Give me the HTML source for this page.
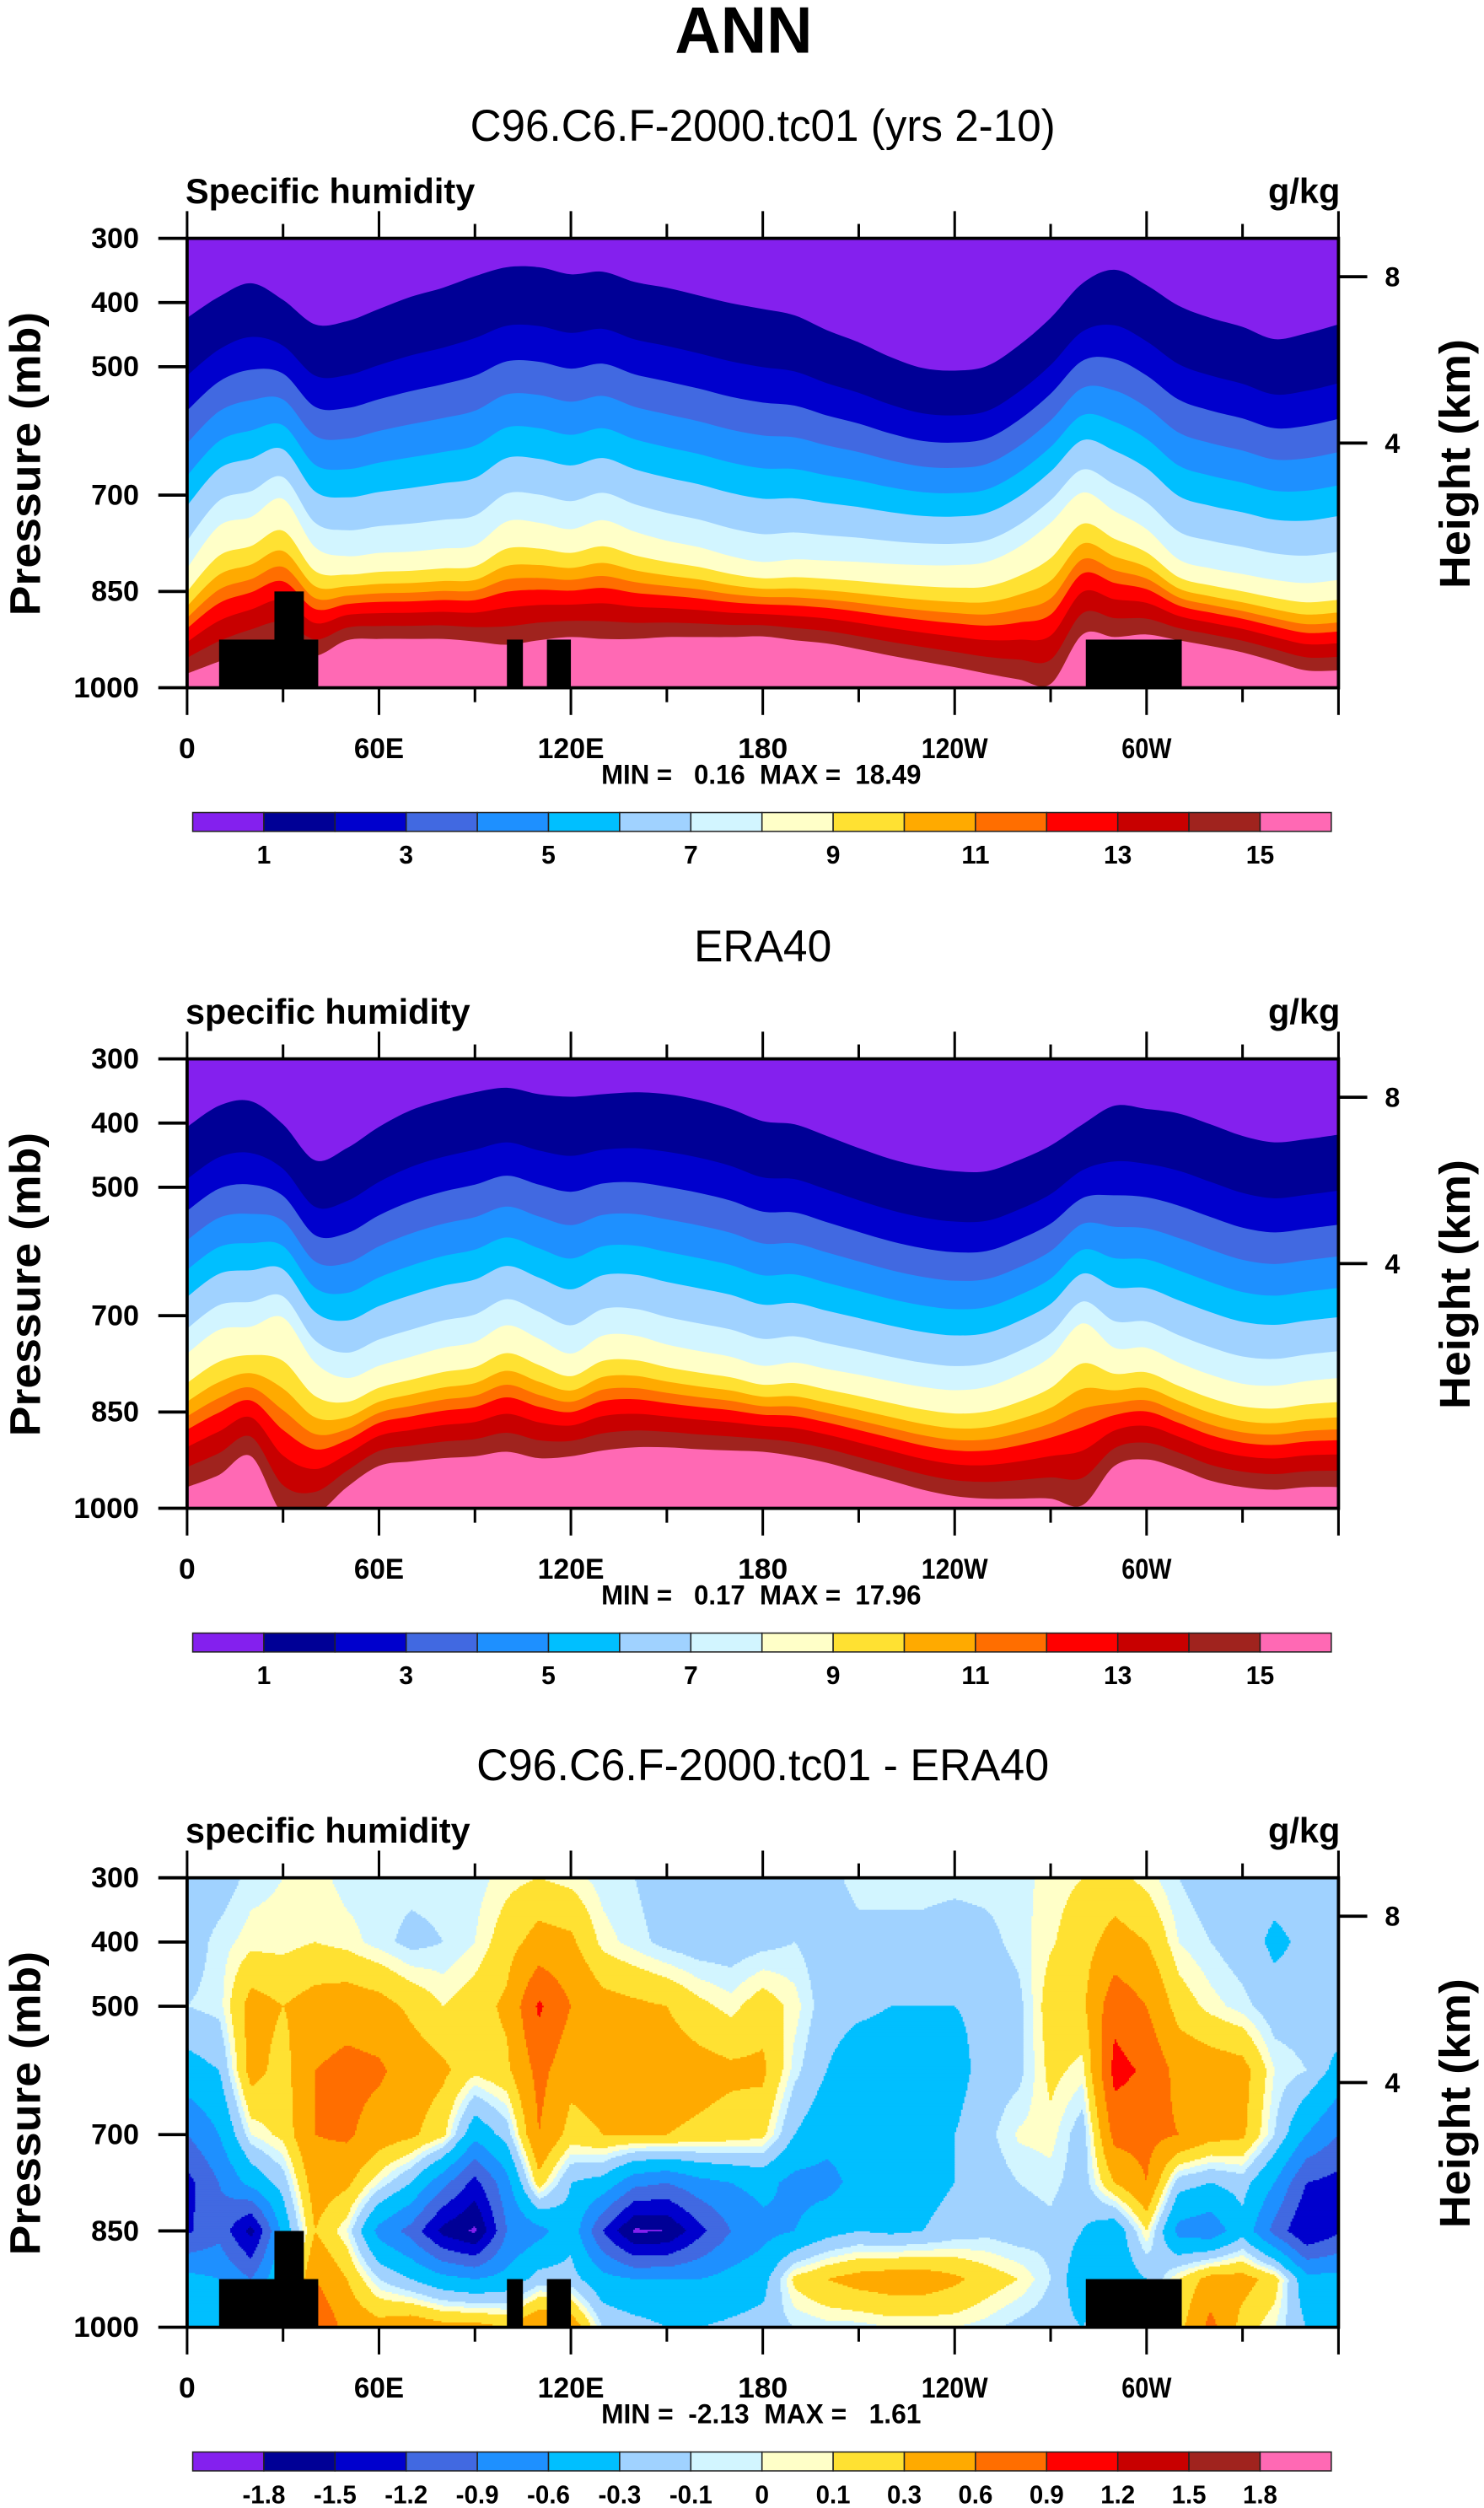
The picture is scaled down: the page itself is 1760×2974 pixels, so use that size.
<!DOCTYPE html>
<html><head><meta charset="utf-8"><title>ANN Specific humidity</title>
<style>
html,body{margin:0;padding:0;background:#fff;}
svg{display:block;}
text{font-family:"Liberation Sans",Arial,sans-serif;fill:#000;}
</style></head>
<body>
<svg id="fig" xmlns="http://www.w3.org/2000/svg" width="1760" height="2974" viewBox="0 0 928 1568" preserveAspectRatio="none">
<rect x="0" y="0" width="928" height="1568" fill="#fff"/>
<text x="465" y="33" text-anchor="middle" font-size="41" font-weight="bold" textLength="86" lengthAdjust="spacingAndGlyphs">ANN</text>
</svg>
<script>
// ---------- data ----------
const lons = [0,10,20,30,40,50,60,70,80,90,100,110,120,130,140,150,160,170,180,190,200,210,220,230,240,250,260,270,280,290,300,310,320,330,340,350,360];
// panel 1 (model): pressure (mb) of q=1, q=8 and q=15 g/kg contours
const modelC1 = [424,391,370,396,434,429,410,391,377,359,345,345,356,352,368,377,389,401,410,420,443,462,485,502,506,499,467,424,370,349,373,405,424,438,457,448,434];
const modelC8 = [814,748,734,706,781,795,790,788,783,778,741,743,753,739,757,771,781,795,804,800,802,804,807,809,809,804,781,743,696,725,753,800,814,823,832,837,832];
const modelC15 = [978,959,940,931,950,926,924,924,924,928,933,926,921,924,924,921,921,921,920,926,931,940,950,959,968,978,987,994,917,921,917,926,935,945,959,973,973];
// panel 2 (ERA40)
const obsC1 = [406,373,366,402,458,439,406,380,364,352,345,355,359,355,352,355,364,378,397,402,420,439,456,468,475,475,458,435,402,373,378,385,402,420,430,425,418];
const obsC8 = [759,722,717,703,773,797,778,764,750,741,715,736,759,731,731,745,755,764,778,773,783,792,802,811,816,811,792,764,712,750,750,773,792,806,809,802,797];
const obsC15 = [967,948,919,1010,1010,967,934,927,922,919,912,922,919,910,905,905,908,910,912,919,929,943,957,971,981,985,985,985,995,934,924,938,957,967,971,967,967];
// panel 3 (difference) grid: one column per longitude, values at pLevels
const pLevels = [300,400,500,600,700,775,850,925,1000];
const diffCols = [
 [-0.2,-0.2,-0.1,-0.4,-0.9,-1.3,-1.25,-0.5,-0.3],
 [-0.2,-0.05,-0.05,-0.3,-0.6,-0.9,-1.0,-0.6,-0.5],
 [-0.05,0.05,0.4,0.4,0.0,-0.5,-1.6,-0.9,-0.6],
 [0.0,0.05,0.3,0.2,0.15,-0.2,-0.5,-0.3,-0.3],
 [0.05,0.1,0.4,0.6,0.6,0.45,0.3,0.6,0.9],
 [-0.05,0.05,0.45,0.7,0.65,0.35,0.0,0.3,0.5],
 [-0.05,-0.05,0.4,0.65,0.45,0.0,-0.7,-0.1,0.4],
 [-0.05,-0.15,0.25,0.45,0.35,-0.3,-1.0,-0.3,0.5],
 [-0.05,-0.1,0.1,0.35,0.15,-0.8,-1.6,-0.5,0.4],
 [-0.05,0.0,0.2,0.15,-0.5,-1.3,-1.85,-0.6,0.4],
 [0.05,0.2,0.35,0.25,-0.2,-0.7,-0.9,-0.5,0.3],
 [0.1,0.4,0.95,0.7,0.6,0.2,-0.7,-0.2,0.6],
 [0.05,0.35,0.6,0.4,0.2,-0.3,-0.4,-0.2,0.5],
 [-0.05,0.05,0.4,0.45,0.3,-0.4,-1.2,-0.5,-0.1],
 [-0.1,-0.05,0.35,0.45,0.3,-0.8,-1.85,-0.6,-0.2],
 [-0.2,-0.15,0.3,0.45,0.3,-0.9,-1.8,-0.6,-0.3],
 [-0.2,-0.2,0.15,0.4,0.25,-0.7,-1.3,-0.6,-0.3],
 [-0.2,-0.2,0.05,0.35,0.2,-0.6,-0.9,-0.5,-0.25],
 [-0.2,-0.15,0.2,0.35,0.15,-0.5,-0.7,-0.4,-0.2],
 [-0.2,-0.1,0.05,-0.05,-0.3,-0.7,-0.6,0.15,-0.1],
 [-0.15,-0.2,-0.2,-0.3,-0.5,-0.7,-0.4,0.3,-0.05],
 [-0.05,-0.15,-0.25,-0.45,-0.5,-0.5,-0.3,0.4,-0.05],
 [-0.05,-0.15,-0.3,-0.45,-0.45,-0.4,-0.35,0.45,0.0],
 [-0.05,-0.15,-0.3,-0.4,-0.35,-0.4,-0.3,0.45,0.0],
 [-0.05,-0.2,-0.3,-0.4,-0.3,-0.3,-0.2,0.35,0.0],
 [-0.05,-0.15,-0.25,-0.2,-0.15,-0.2,-0.15,0.2,-0.05],
 [-0.05,-0.05,-0.15,-0.15,0.02,-0.1,-0.2,0.1,-0.15],
 [0.05,0.08,0.2,0.15,0.05,-0.05,-0.15,-0.1,-0.2],
 [0.1,0.2,0.25,0.05,-0.2,-0.2,-0.3,-0.5,-0.3],
 [0.15,0.4,0.8,1.0,0.7,0.3,-0.5,-0.5,0.0],
 [0.05,0.3,0.6,0.85,0.7,0.6,0.1,-0.3,0.0],
 [-0.1,0.0,0.2,0.5,0.6,-0.2,-0.7,0.1,0.2],
 [-0.2,-0.1,0.05,0.45,0.4,-0.3,-0.8,0.4,0.7],
 [-0.2,-0.2,-0.05,0.4,0.35,-0.2,-0.4,0.4,0.2],
 [-0.2,-0.35,-0.2,0.0,-0.1,-0.6,-1.0,0.2,0.0],
 [-0.2,-0.25,-0.2,-0.1,-0.6,-1.2,-1.5,-0.5,-0.3],
 [-0.2,-0.2,-0.1,-0.4,-0.9,-1.3,-1.25,-0.5,-0.3]
];
// topography mask boxes: [lonStart, lonEnd, topPressure]
const topoBoxes = [[10,41,925],[27.3,36.5,850],[100,105,925],[112.5,120,925],[281,311,925]];
const qLabels = ["1","3","5","7","9","11","13","15"];
const qLabelIdx = [0,2,4,6,8,10,12,14];
const diffLevels = [-1.8,-1.5,-1.2,-0.9,-0.6,-0.3,-0.1,0,0.1,0.3,0.6,0.9,1.2,1.5,1.8];
const diffLabels = ["-1.8","-1.5","-1.2","-0.9","-0.6","-0.3","-0.1","0","0.1","0.3","0.6","0.9","1.2","1.5","1.8"];
const pTicks = [300,400,500,700,850,1000];
const lonTicks = [0,60,120,180,240,300];
const lonTickLabels = ["0","60E","120E","180","120W","60W"];
const hTicks = [[8,173],[4,277]];
const colors = ['#8420ee','#000096','#0000cd','#4169e1','#1e90ff','#00bfff','#a0d2ff','#d2f5ff','#ffffc8','#ffe132','#ffaa00','#ff6e00','#ff0000','#c80000','#a0231e','#ff69b4'];
const F1 = [0,0.23,0.37,0.5,0.63,0.75,0.89,1];
const F2 = [0.22,0.36,0.47,0.57,0.7,0.85,1];

// ---------- helpers ----------
const NS = "http://www.w3.org/2000/svg";
const svg = document.getElementById('fig');
function X(lon){return 117+lon*2;}
function Y(p,off){return 149+off+(p-300)*0.4014;}
function mk(tag, attrs, parent){
  const e=document.createElementNS(NS,tag);
  for(const k in attrs) e.setAttribute(k,attrs[k]);
  (parent||svg).appendChild(e); return e;
}
function txt(str, attrs, parent){const t=mk('text',attrs,parent); t.textContent=str; return t;}
function smooth(pts){
  let d='';
  for(let i=0;i<pts.length-1;i++){
    const p0=pts[Math.max(0,i-1)],p1=pts[i],p2=pts[i+1],p3=pts[Math.min(pts.length-1,i+2)];
    const c1x=p1[0]+(p2[0]-p0[0])/6,c1y=p1[1]+(p2[1]-p0[1])/6;
    const c2x=p2[0]-(p3[0]-p1[0])/6,c2y=p2[1]-(p3[1]-p1[1])/6;
    d+=` C${c1x.toFixed(2)},${c1y.toFixed(2)} ${c2x.toFixed(2)},${c2y.toFixed(2)} ${p2[0].toFixed(2)},${p2[1].toFixed(2)}`;
  }
  return d;
}
function labelWidth(s,per){
  let w=0; for(const ch of s){ w += (ch==='.'?0.45:(ch==='-'?0.6:1))*per; } return w;
}

const panels = [
  {off:0, title:"C96.C6.F-2000.tc01 (yrs 2-10)", tl:366, sub:"Specific humidity", sl:181, minmax:"MIN =   0.16  MAX =  18.49", c1:modelC1, c8:modelC8, c15:modelC15, topo:true},
  {off:513, title:"ERA40", tl:86, sub:"specific humidity", sl:178, minmax:"MIN =   0.17  MAX =  17.96", c1:obsC1, c8:obsC8, c15:obsC15, topo:false},
  {off:1025, title:"C96.C6.F-2000.tc01 - ERA40", tl:358, sub:"specific humidity", sl:178, minmax:"MIN =  -2.13  MAX =   1.61", diff:true, topo:true}
];

panels.forEach((P,pi)=>{
  const off=P.off, top=149+off, bot=430+off;
  const g=mk('g',{});
  
  
  const t=txt(P.title,{x:477,y:88+off,'text-anchor':'middle','font-size':28,textLength:P.tl,lengthAdjust:'spacingAndGlyphs'},g);
  
  
  const s=txt(P.sub,{x:116,y:127+off,'font-size':22,'font-weight':'bold',textLength:P.sl,lengthAdjust:'spacingAndGlyphs'},g);
  
  
  const u=txt("g/kg",{x:838,y:127+off,'text-anchor':'end','font-size':22,'font-weight':'bold',textLength:45,lengthAdjust:'spacingAndGlyphs'},g);
  
  

  const cp=mk('clipPath',{id:'clip'+pi},g);
  mk('rect',{x:117,y:top,width:720,height:281},cp);
  const field=mk('g',{'clip-path':'url(#clip'+pi+')'},g);
  
  

  if(!P.diff){
    const bg=mk('rect',{x:117,y:top,width:720,height:281,fill:colors[15]},field);
    
    
    for(let L=15;L>=1;L--){
      const pts=lons.map((lon,i)=>{
        let p;
        if(L<=8) p=P.c1[i]+(P.c8[i]-P.c1[i])*F1[L-1];
        else p=P.c8[i]+(P.c15[i]-P.c8[i])*F2[L-9];
        return [X(lon),Y(p,off)];
      });
      const d=`M${X(0)},${top-2} L${pts[0][0]},${pts[0][1].toFixed(2)}`+smooth(pts)+` L${X(360)},${top-2} Z`;
      const band=mk('path',{d:d,fill:colors[L-1]},field);
      
      
    }
  } else {
    function val(lon,p){
      let i=Math.min(Math.floor(lon/10),lons.length-2);
      const fx=(lon-lons[i])/(lons[i+1]-lons[i]);
      let j=0; while(j<pLevels.length-2 && p>pLevels[j+1]) j++;
      const fy=Math.max(0,Math.min(1,(p-pLevels[j])/(pLevels[j+1]-pLevels[j])));
      const a=diffCols[i][j],b=diffCols[i+1][j],c=diffCols[i][j+1],e=diffCols[i+1][j+1];
      return (a*(1-fx)+b*fx)*(1-fy)+(c*(1-fx)+e*fx)*fy;
    }
    function cidx(v){let k=0; for(const l of diffLevels){ if(v>=l) k++; } return k;}
    for(let yy=0;yy<281;yy++){
      const p=300+(yy+0.5)/0.4014;
      let start=0, cur=cidx(val(0.25,p));
      for(let xx=1;xx<=720;xx++){
        const c = xx<720 ? cidx(val((xx+0.5)/2,p)) : -1;
        if(c!==cur){
          const r=mk('rect',{x:117+start,y:top+yy,width:xx-start+0.4,height:1.4,fill:colors[cur]},field);
          
          
          start=xx; cur=c;
        }
      }
    }
  }
  if(P.topo){
    topoBoxes.forEach(b=>{
      const r=mk('rect',{x:X(b[0]),y:Y(b[2],off),width:X(b[1])-X(b[0]),height:bot-Y(b[2],off),fill:'#000'},g);
      
      
    });
  }
  const fr=mk('rect',{x:117,y:top,width:720,height:281,fill:'none',stroke:'#000','stroke-width':2},g);
  
  

  // pressure axis
  pTicks.forEach(p=>{
    const y=Y(p,off);
    const tk=mk('line',{x1:99,x2:117,y1:y,y2:y,stroke:'#000','stroke-width':2},g);
    
    
    const lb=txt(String(p),{x:87,y:y+6,'text-anchor':'end','font-size':18,'font-weight':'bold',textLength:p>=1000?41:30,lengthAdjust:'spacingAndGlyphs'},g);
    
    
  });
  // longitude ticks top/bottom
  for(let lon=0;lon<=360;lon+=30){
    const major=lon%60===0, len=major?17:9;
    const t1=mk('line',{x1:X(lon),x2:X(lon),y1:top,y2:top-len,stroke:'#000','stroke-width':1.6},g);
    
    
    const t2=mk('line',{x1:X(lon),x2:X(lon),y1:bot,y2:bot+len,stroke:'#000','stroke-width':1.6},g);
    
    
  }
  lonTicks.forEach((lon,i)=>{
    const s=lonTickLabels[i];
    const lb=txt(s,{x:X(lon),y:474+off,'text-anchor':'middle','font-size':18,'font-weight':'bold',textLength:labelWidth(s,10.4),lengthAdjust:'spacingAndGlyphs'},g);
    
    
  });
  // height axis
  hTicks.forEach(h=>{
    const y=h[1]+off;
    const tk=mk('line',{x1:837,x2:855,y1:y,y2:y,stroke:'#000','stroke-width':2},g);
    
    
    const lb=txt(String(h[0]),{x:866,y:y+6,'font-size':17,'font-weight':'bold'},g);
    
    
  });
  const ya=txt("Pressure (mb)",{x:0,y:0,'text-anchor':'middle','font-size':27,'font-weight':'bold',textLength:190,lengthAdjust:'spacingAndGlyphs',transform:`translate(25,${290+off}) rotate(-90)`},g);
  
  
  const ha=txt("Height (km)",{x:0,y:0,'text-anchor':'middle','font-size':27,'font-weight':'bold',textLength:156,lengthAdjust:'spacingAndGlyphs',transform:`translate(919,${290+off}) rotate(-90)`},g);
  
  
  const mm=txt(P.minmax,{x:476,y:490+off,'text-anchor':'middle','font-size':17,'font-weight':'bold','xml:space':'preserve',textLength:200,lengthAdjust:'spacingAndGlyphs'},g);
  
  
  mm.setAttribute('style','white-space:pre');

  // colorbar
  const cb=mk('g',{},g);
  
  
  for(let k=0;k<16;k++){
    const r=mk('rect',{x:120.5+k*44.5,y:508+off,width:44.5,height:11.8,fill:colors[k],stroke:'#222','stroke-width':0.8},cb);
    
    
  }
  const labs = P.diff ? diffLabels : qLabels;
  labs.forEach((s,i)=>{
    const pos = P.diff ? i+1 : qLabelIdx[i]+1;
    const lb=txt(s,{x:120.5+pos*44.5,y:540+off,'text-anchor':'middle','font-size':16,'font-weight':'bold',textLength:labelWidth(s,8.8),lengthAdjust:'spacingAndGlyphs'},cb);
    
    
  });
});
</script>
</body></html>
